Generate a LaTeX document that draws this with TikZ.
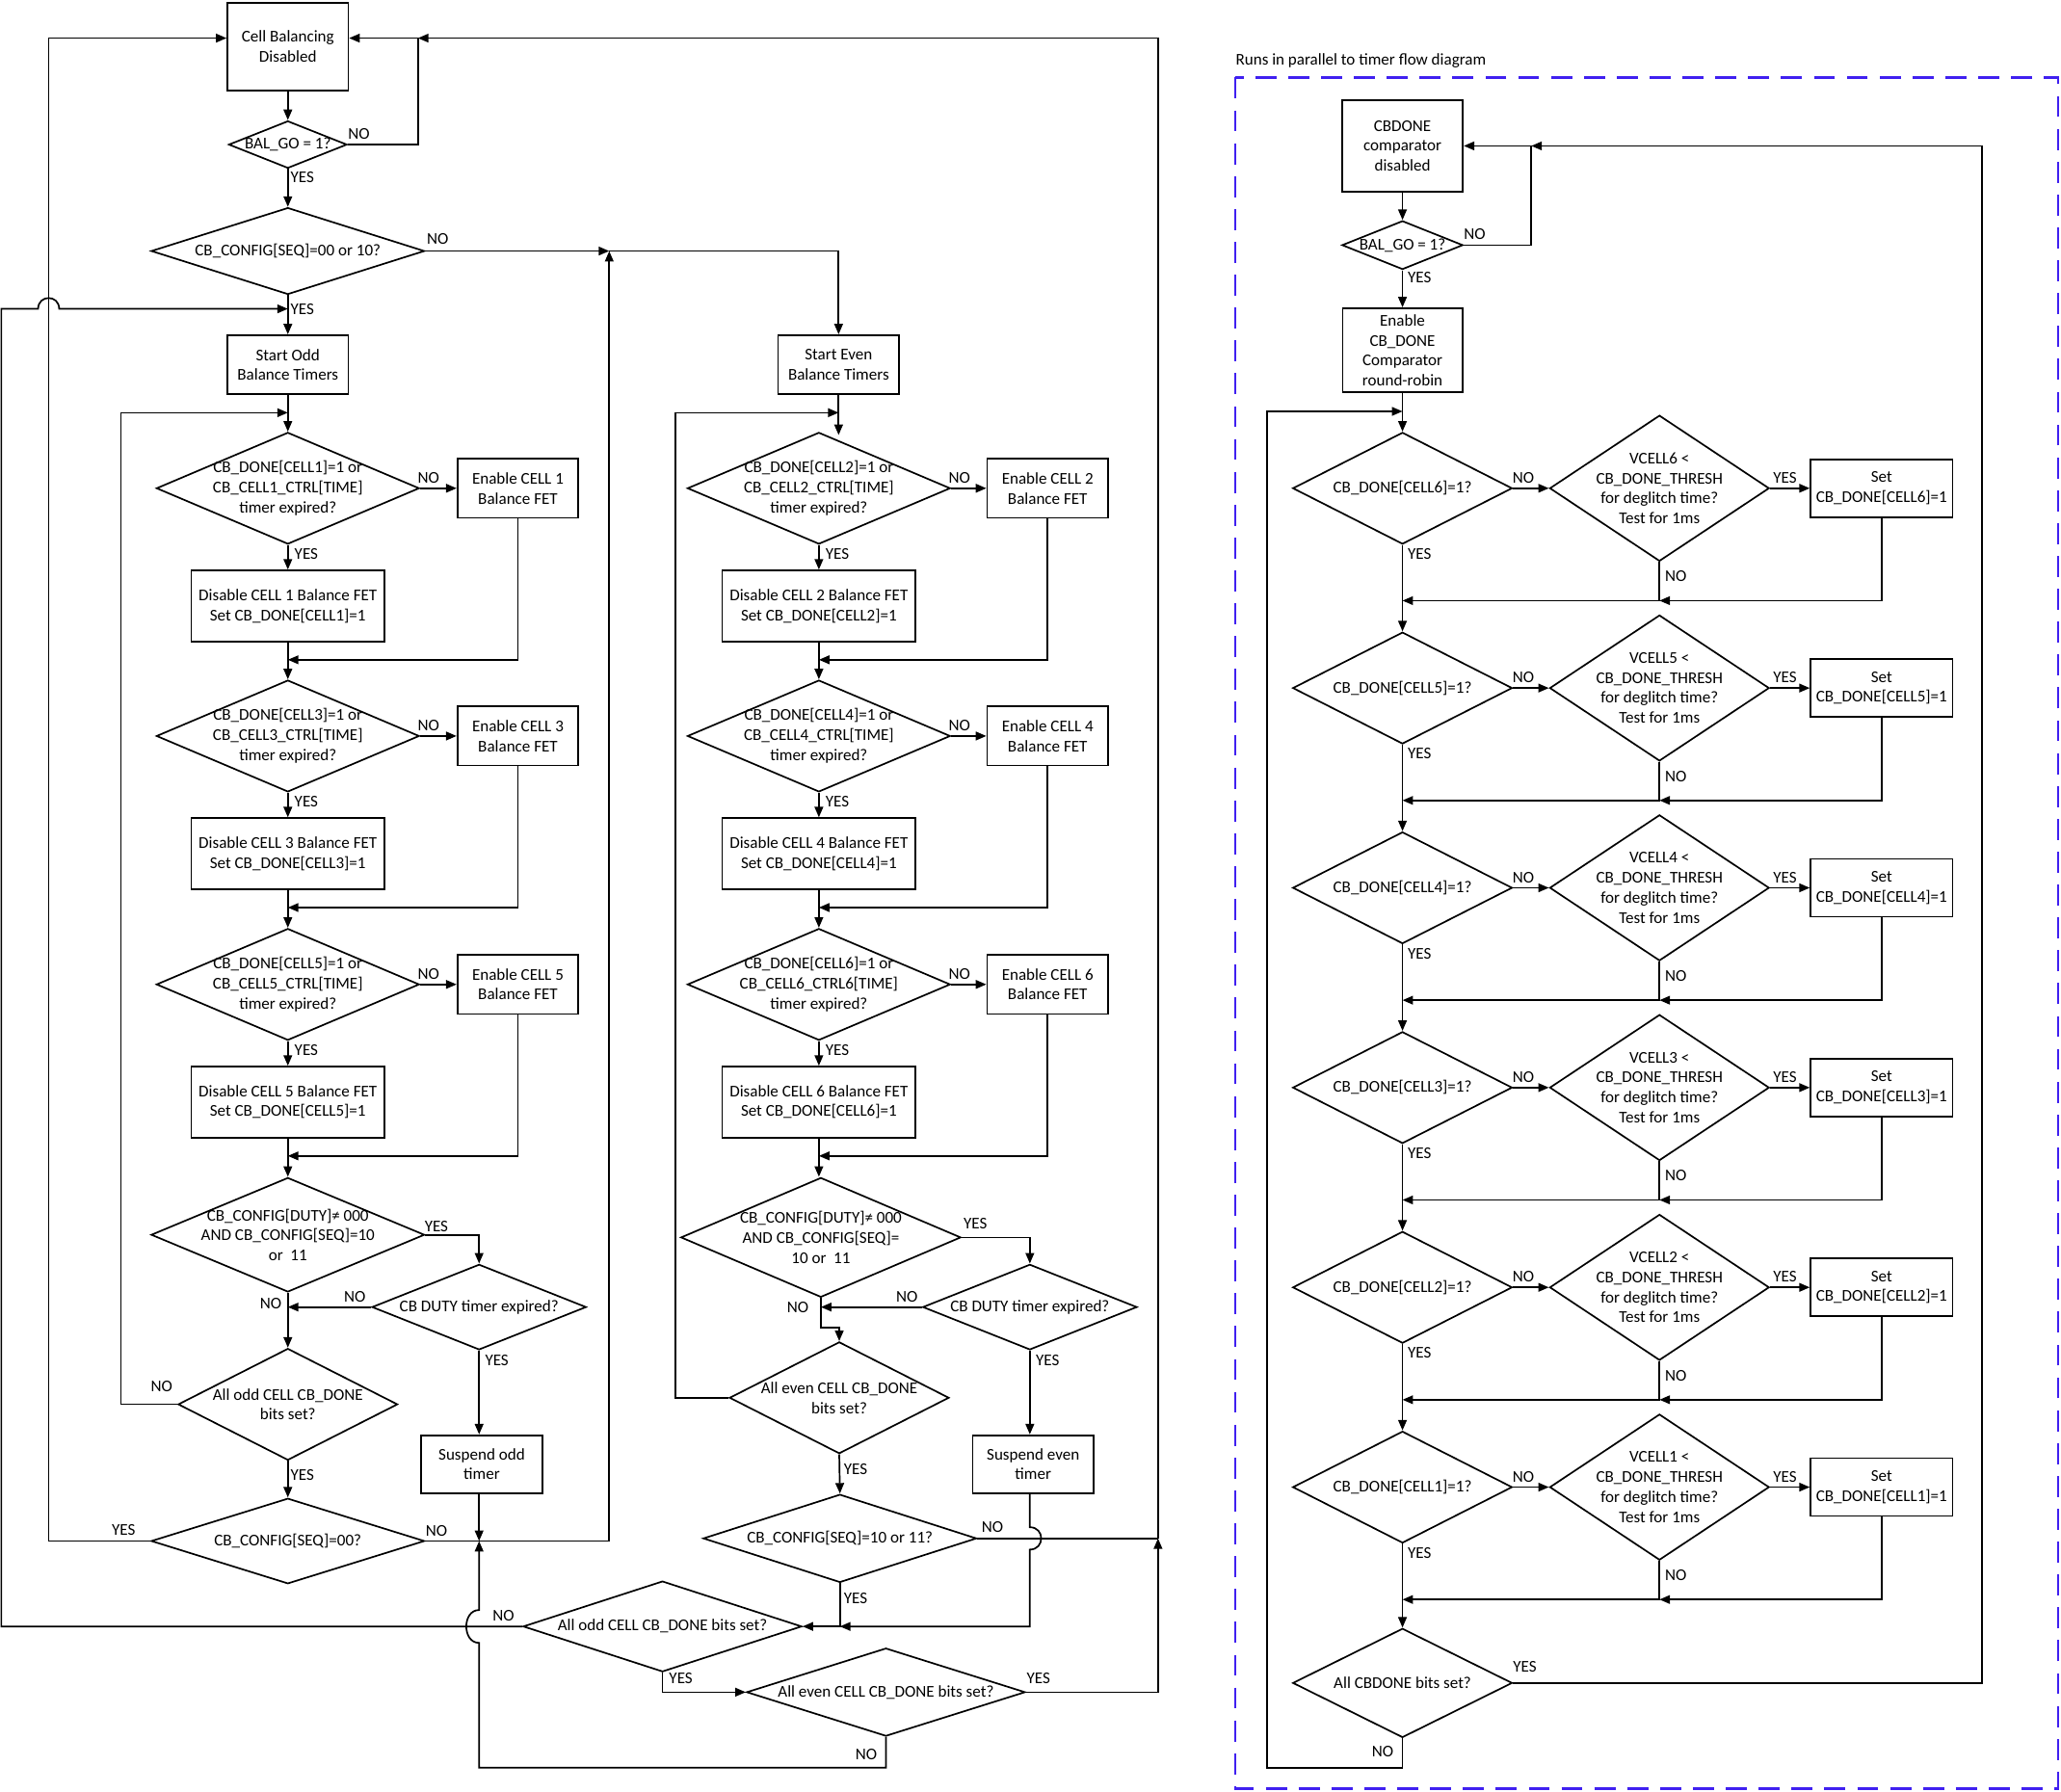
\documentclass[tikz,border=0pt]{standalone}
\usepackage{fontspec}
\setmainfont{Carlito}
\usetikzlibrary{shapes.geometric,arrows.meta,calc}
\definecolor{dashblue}{RGB}{64,32,240}
\newcommand\mylab[3]{\node[lb] (#1) at (#2) {#3};}
\begin{document}
\begin{tikzpicture}[x=1pt,y=-1pt,
  font=\fontsize{12.5}{15.2}\selectfont,
  arr/.style={line width=1.25pt,-{Triangle[length=8pt,width=6.5pt]}},
  ln/.style={line width=1.25pt},
  bx/.style 2 args={draw,line width=1.25pt,rectangle,minimum width=#1,minimum height=#2,inner sep=1pt,align=center},
  dm/.style 2 args={draw,line width=1.25pt,diamond,minimum width=#1,minimum height=#2,inner sep=0pt},
  tt/.style={align=center,inner sep=0pt},
  lb/.style={inner sep=0pt}]
\fill[white] (0,0) rectangle (1568,1363);
\useasboundingbox (0,0) rectangle (1568,1363);

% ---------------- odd column ----------------
\node[bx={92pt}{67pt}] (cbd) at (219,35.5) {Cell Balancing\\Disabled};
\node[dm={90pt}{36pt},label={[tt]center:{BAL\_GO = 1?}}] (bal) at (219,110) {};
\node[dm={208pt}{66pt},label={[tt]center:{CB\_CONFIG[SEQ]=00 or 10?}}] (seq) at (219,191) {};
\node[bx={92pt}{45pt}] (sodd) at (219,277.5) {Start Odd\\Balance Timers};
\foreach \cc/\yy in {1/371.5,3/560,5/749}{
  \node[dm={200pt}{85pt},label={[tt]center:{CB\_DONE[CELL\cc]=1 or\\CB\_CELL\cc\_CTRL[TIME]\\timer expired?}}] (o\cc) at (219,\yy) {};
  \node[bx={92pt}{45pt}] (en\cc) at (394,\yy) {Enable CELL \cc\\Balance FET};
  \node[bx={147pt}{54pt}] (dis\cc) at (219,\yy+89.5) {Disable CELL \cc{} Balance FET\\Set CB\_DONE[CELL\cc]=1};
  \coordinate (oj\cc) at (219,\yy+130.5);
}
\node[dm={208pt}{87pt},label={[tt]center:{CB\_CONFIG[DUTY]≠ 000\\AND CB\_CONFIG[SEQ]=10\\or\ \ 11}}] (dutyo) at (219,939.5) {};
\node[dm={163pt}{65pt},label={[tt]center:{CB DUTY timer expired?}}] (cbdo) at (364.5,994.5) {};
\node[dm={167pt}{85pt},label={[tt]center:{All odd CELL CB\_DONE\\bits set?}}] (allo) at (219,1068.5) {};
\node[bx={92pt}{44pt}] (suso) at (366.5,1114) {Suspend odd\\timer};
\node[dm={208pt}{65pt},label={[tt]center:{CB\_CONFIG[SEQ]=00?}}] (seq00) at (219,1172.5) {};

% ---------------- even column ----------------
\node[bx={92pt}{45pt}] (seve) at (638,277.5) {Start Even\\Balance Timers};
\foreach \cc/\yy/\ctl in {2/371.5/CB\_CELL2\_CTRL[TIME],4/560/CB\_CELL4\_CTRL[TIME],6/749/CB\_CELL6\_CTRL6[TIME]}{
  \node[dm={200pt}{85pt},label={[tt]center:{CB\_DONE[CELL\cc]=1 or\\\ctl\\timer expired?}}] (e\cc) at (623,\yy) {};
  \node[bx={92pt}{45pt}] (en\cc) at (797,\yy) {Enable CELL \cc\\Balance FET};
  \node[bx={147pt}{54pt}] (dis\cc) at (623,\yy+89.5) {Disable CELL \cc{} Balance FET\\Set CB\_DONE[CELL\cc]=1};
  \coordinate (ej\cc) at (623,\yy+130.5);
}
\node[dm={213pt}{91pt},label={[tt]center:{CB\_CONFIG[DUTY]≠ 000\\AND CB\_CONFIG[SEQ]=\\10 or\ \ 11}}] (dutye) at (624.5,941.5) {};
\node[dm={163pt}{65pt},label={[tt]center:{CB DUTY timer expired?}}] (cbde) at (783.5,994.5) {};
\node[dm={167pt}{85pt},label={[tt]center:{All even CELL CB\_DONE\\bits set?}}] (alle) at (638.5,1063.5) {};
\node[bx={92pt}{44pt}] (suse) at (786,1114) {Suspend even\\timer};
\node[dm={208pt}{67pt},label={[tt]center:{CB\_CONFIG[SEQ]=10 or 11?}}] (seqb) at (639,1170.5) {};
\node[dm={212pt}{69pt},label={[tt]center:{All odd CELL CB\_DONE bits set?}}] (allob) at (504,1237.5) {};
\node[dm={212pt}{67pt},label={[tt]center:{All even CELL CB\_DONE bits set?}}] (alleb) at (674,1287.5) {};

% ---------------- right panel ----------------
\node[lb,anchor=west] (ttl) at (940,46) {Runs in parallel to timer flow diagram};
\draw[dashblue,line width=1.7pt,dash pattern=on 16pt off 9pt] (940,59) rectangle (1566,1361);
\node[bx={92pt}{70pt}] (cbdc) at (1067,111) {CBDONE\\comparator\\disabled};
\node[dm={92pt}{37pt},label={[tt]center:{BAL\_GO = 1?}}] (bal2) at (1067,186.5) {};
\node[bx={91pt}{64pt}] (enc) at (1067,266.5) {Enable\\CB\_DONE\\Comparator\\round-robin};
\foreach \cc/\yy in {6/371.5,5/523.5,4/675.5,3/827.5,2/979.5,1/1131.5}{
  \node[dm={167pt}{85pt},label={[tt]center:{CB\_DONE[CELL\cc]=1?}}] (r\cc) at (1067,\yy) {};
  \node[dm={167pt}{111pt},label={[tt]center:{VCELL\cc{} <\\CB\_DONE\_THRESH\\for deglitch time?\\Test for 1ms}}] (v\cc) at (1262.5,\yy) {};
  \node[bx={108pt}{44pt}] (s\cc) at (1431.5,\yy) {Set\\CB\_DONE[CELL\cc]=1};
  \coordinate (rj\cc) at (1067,\yy+85.5);
  \coordinate (vj\cc) at (1262.5,\yy+85.5);
  \mylab{rno\cc}{1159,\yy-8}{NO}
  \mylab{vyes\cc}{1358,\yy-8}{YES}
  \mylab{vno\cc}{1275,\yy+67}{NO}
  \mylab{ryes\cc}{1080,\yy+50}{YES}
}
\node[dm={167pt}{83pt},label={[tt]center:{All CBDONE bits set?}}] (allc) at (1067,1280.5) {};

% ---------------- coordinates ----------------
\coordinate (jt) at (318,29);
\coordinate (cbdin) at ($(cbd.east)+(0,-6.5)$);
\coordinate (cbdinL) at ($(cbd.west)+(0,-6.5)$);
\coordinate (jmid) at (463.5,191);
\coordinate (jyes) at (219,235);
\coordinate (jl1) at (219,314);
\coordinate (jd) at (219,994.5);
\coordinate (jno) at (364.5,1172.5);
\coordinate (e2in) at (638,331);
\coordinate (jl2) at (638,314);
\coordinate (jde) at (624.5,994.5);
\coordinate (jr) at (881,1170.5);
\coordinate (jy) at (639,1237.5);
\coordinate (jc) at (1165,111);
\coordinate (jl3) at (1067,313);

% ---------------- odd connectors ----------------
\draw[arr] (cbd.south) -- (bal.north);
\draw[arr] (bal.east) -| (jt) -- (cbdin);
\draw[arr] (bal.south) -- (seq.north);
\draw[arr] (seq.south) -- (sodd.north);
\draw[arr] (seq.east) -- (jmid);
\draw[arr] (jmid) -| (seve.north);
\draw[arr] (allob.west) -- (1,1237.5) -- (1,235) -- (29,235) .. controls (29,224) and (45,224) .. (45,235) -- (jyes);
\draw[arr] (sodd.south) -- (o1.north);
\draw[arr] (allo.west) -- (92,1068.5) -- (92,314) -- (jl1);
\foreach \cc/\nx in {1/o3,3/o5,5/dutyo}{
  \draw[arr] (o\cc.east) -- (en\cc.west);
  \draw[arr] (o\cc.south) -- (dis\cc.north);
  \draw[arr] (en\cc.south) |- (oj\cc);
  \draw[arr] (dis\cc.south) -- (\nx.north);
}
\draw[arr] (dutyo.east) -| (cbdo.north);
\draw[arr] (cbdo.west) -- (jd);
\draw[arr] (dutyo.south) -- (allo.north);
\draw[arr] (cbdo.south) -- (cbdo.south |- suso.north);
\draw[arr] (allo.south) -- (seq00.north);
\draw[arr] (seq00.west) -- (37,1172.5) -- (37,29) -- (cbdinL);
\draw[arr] (seq00.east) -- (463.5,1172.5) -- (jmid);
\draw[arr] (suso.south -| jno) -- (jno);
\draw[arr] (alleb.south) -- (674,1345) -- (364.5,1345) -- (364.5,1250) .. controls (351.5,1250) and (351.5,1225) .. (364.5,1225) -- (jno);

% ---------------- even connectors ----------------
\draw[arr] (seve.south) -- (e2in);
\draw[arr] (alle.west) -- (514,1063.5) -- (514,314) -- (jl2);
\foreach \cc/\nx in {2/e4,4/e6,6/dutye}{
  \draw[arr] (e\cc.east) -- (en\cc.west);
  \draw[arr] (e\cc.south) -- (dis\cc.north);
  \draw[arr] (en\cc.south) |- (ej\cc);
  \draw[arr] (dis\cc.south) -- (dis\cc.south |- \nx.north);
}
\draw[arr] (dutye.east) -| (cbde.north);
\draw[arr] (cbde.west) -- (jde);
\draw[arr] (dutye.south) -- (624.5,1010) -- (638.5,1010) -- (alle.north);
\draw[arr] (cbde.south) -- (cbde.south |- suse.north);
\draw[arr] (alle.south) -- (seqb.north);
\draw[ln] (seqb.east) -- (jr);
\draw[arr] (alleb.east) -| (jr);
\draw[arr] (jr) |- (jt);
\draw[arr] (seqb.south) -- (jy) -- (allob.east);
\draw[arr] (suse.south -| cbde.south) -- (783.5,1162) .. controls (795,1162) and (795,1179) .. (783.5,1179) -- (783.5,1237.5) -- (jy);
\draw[arr] (allob.south) |- (alleb.west);

% ---------------- right connectors ----------------
\draw[arr] (cbdc.south) -- (bal2.north);
\draw[arr] (bal2.east) -| (jc) -- (cbdc.east);
\draw[arr] (bal2.south) -- (enc.north);
\draw[arr] (enc.south) -- (r6.north);
\draw[arr] (allc.south) -- (1067,1345) -- (964,1345) -- (964,313) -- (jl3);
\draw[arr] (allc.east) -- (1508,1280.5) -- (1508,111) -- (jc);
\foreach \cc/\nx in {6/r5,5/r4,4/r3,3/r2,2/r1,1/allc}{
  \draw[arr] (r\cc.east) -- (v\cc.west);
  \draw[arr] (v\cc.east) -- (s\cc.west);
  \draw[arr] (s\cc.south) |- (vj\cc);
  \draw[arr] (v\cc.south) -- (vj\cc) -- (rj\cc);
  \draw[arr] (r\cc.south) -- (\nx.north);
}

% ---------------- labels ----------------
\mylab{l1}{273,102}{NO}
\mylab{l2}{230,135}{YES}
\mylab{l3}{333,182}{NO}
\mylab{l4}{230,235}{YES}
\foreach \cc/\yy in {1/371.5,3/560,5/749}{
  \mylab{ono\cc}{326,\yy-8}{NO}
  \mylab{oyes\cc}{233,\yy+50}{YES}
}
\mylab{l5}{332,933}{YES}
\mylab{l6}{270,987}{NO}
\mylab{l7}{206,992}{NO}
\mylab{l8}{378,1035}{YES}
\mylab{l9}{123,1055}{NO}
\mylab{l10}{230,1122}{YES}
\mylab{l11}{94,1164}{YES}
\mylab{l12}{332,1165}{NO}
\foreach \cc/\yy in {2/371.5,4/560,6/749}{
  \mylab{eno\cc}{730,\yy-8}{NO}
  \mylab{eyes\cc}{637,\yy+50}{YES}
}
\mylab{l13}{742,931}{YES}
\mylab{l14}{690,987}{NO}
\mylab{l15}{607,995}{NO}
\mylab{l16}{797,1035}{YES}
\mylab{l17}{651,1118}{YES}
\mylab{l18}{755,1162}{NO}
\mylab{l19}{651,1216}{YES}
\mylab{l20}{383,1229}{NO}
\mylab{l21}{518,1277}{YES}
\mylab{l22}{790,1277}{YES}
\mylab{l23}{659,1335}{NO}
\mylab{l24}{1122,178}{NO}
\mylab{l25}{1080,211}{YES}
\mylab{l26}{1160,1268}{YES}
\mylab{l27}{1052,1333}{NO}
\end{tikzpicture}
\end{document}
